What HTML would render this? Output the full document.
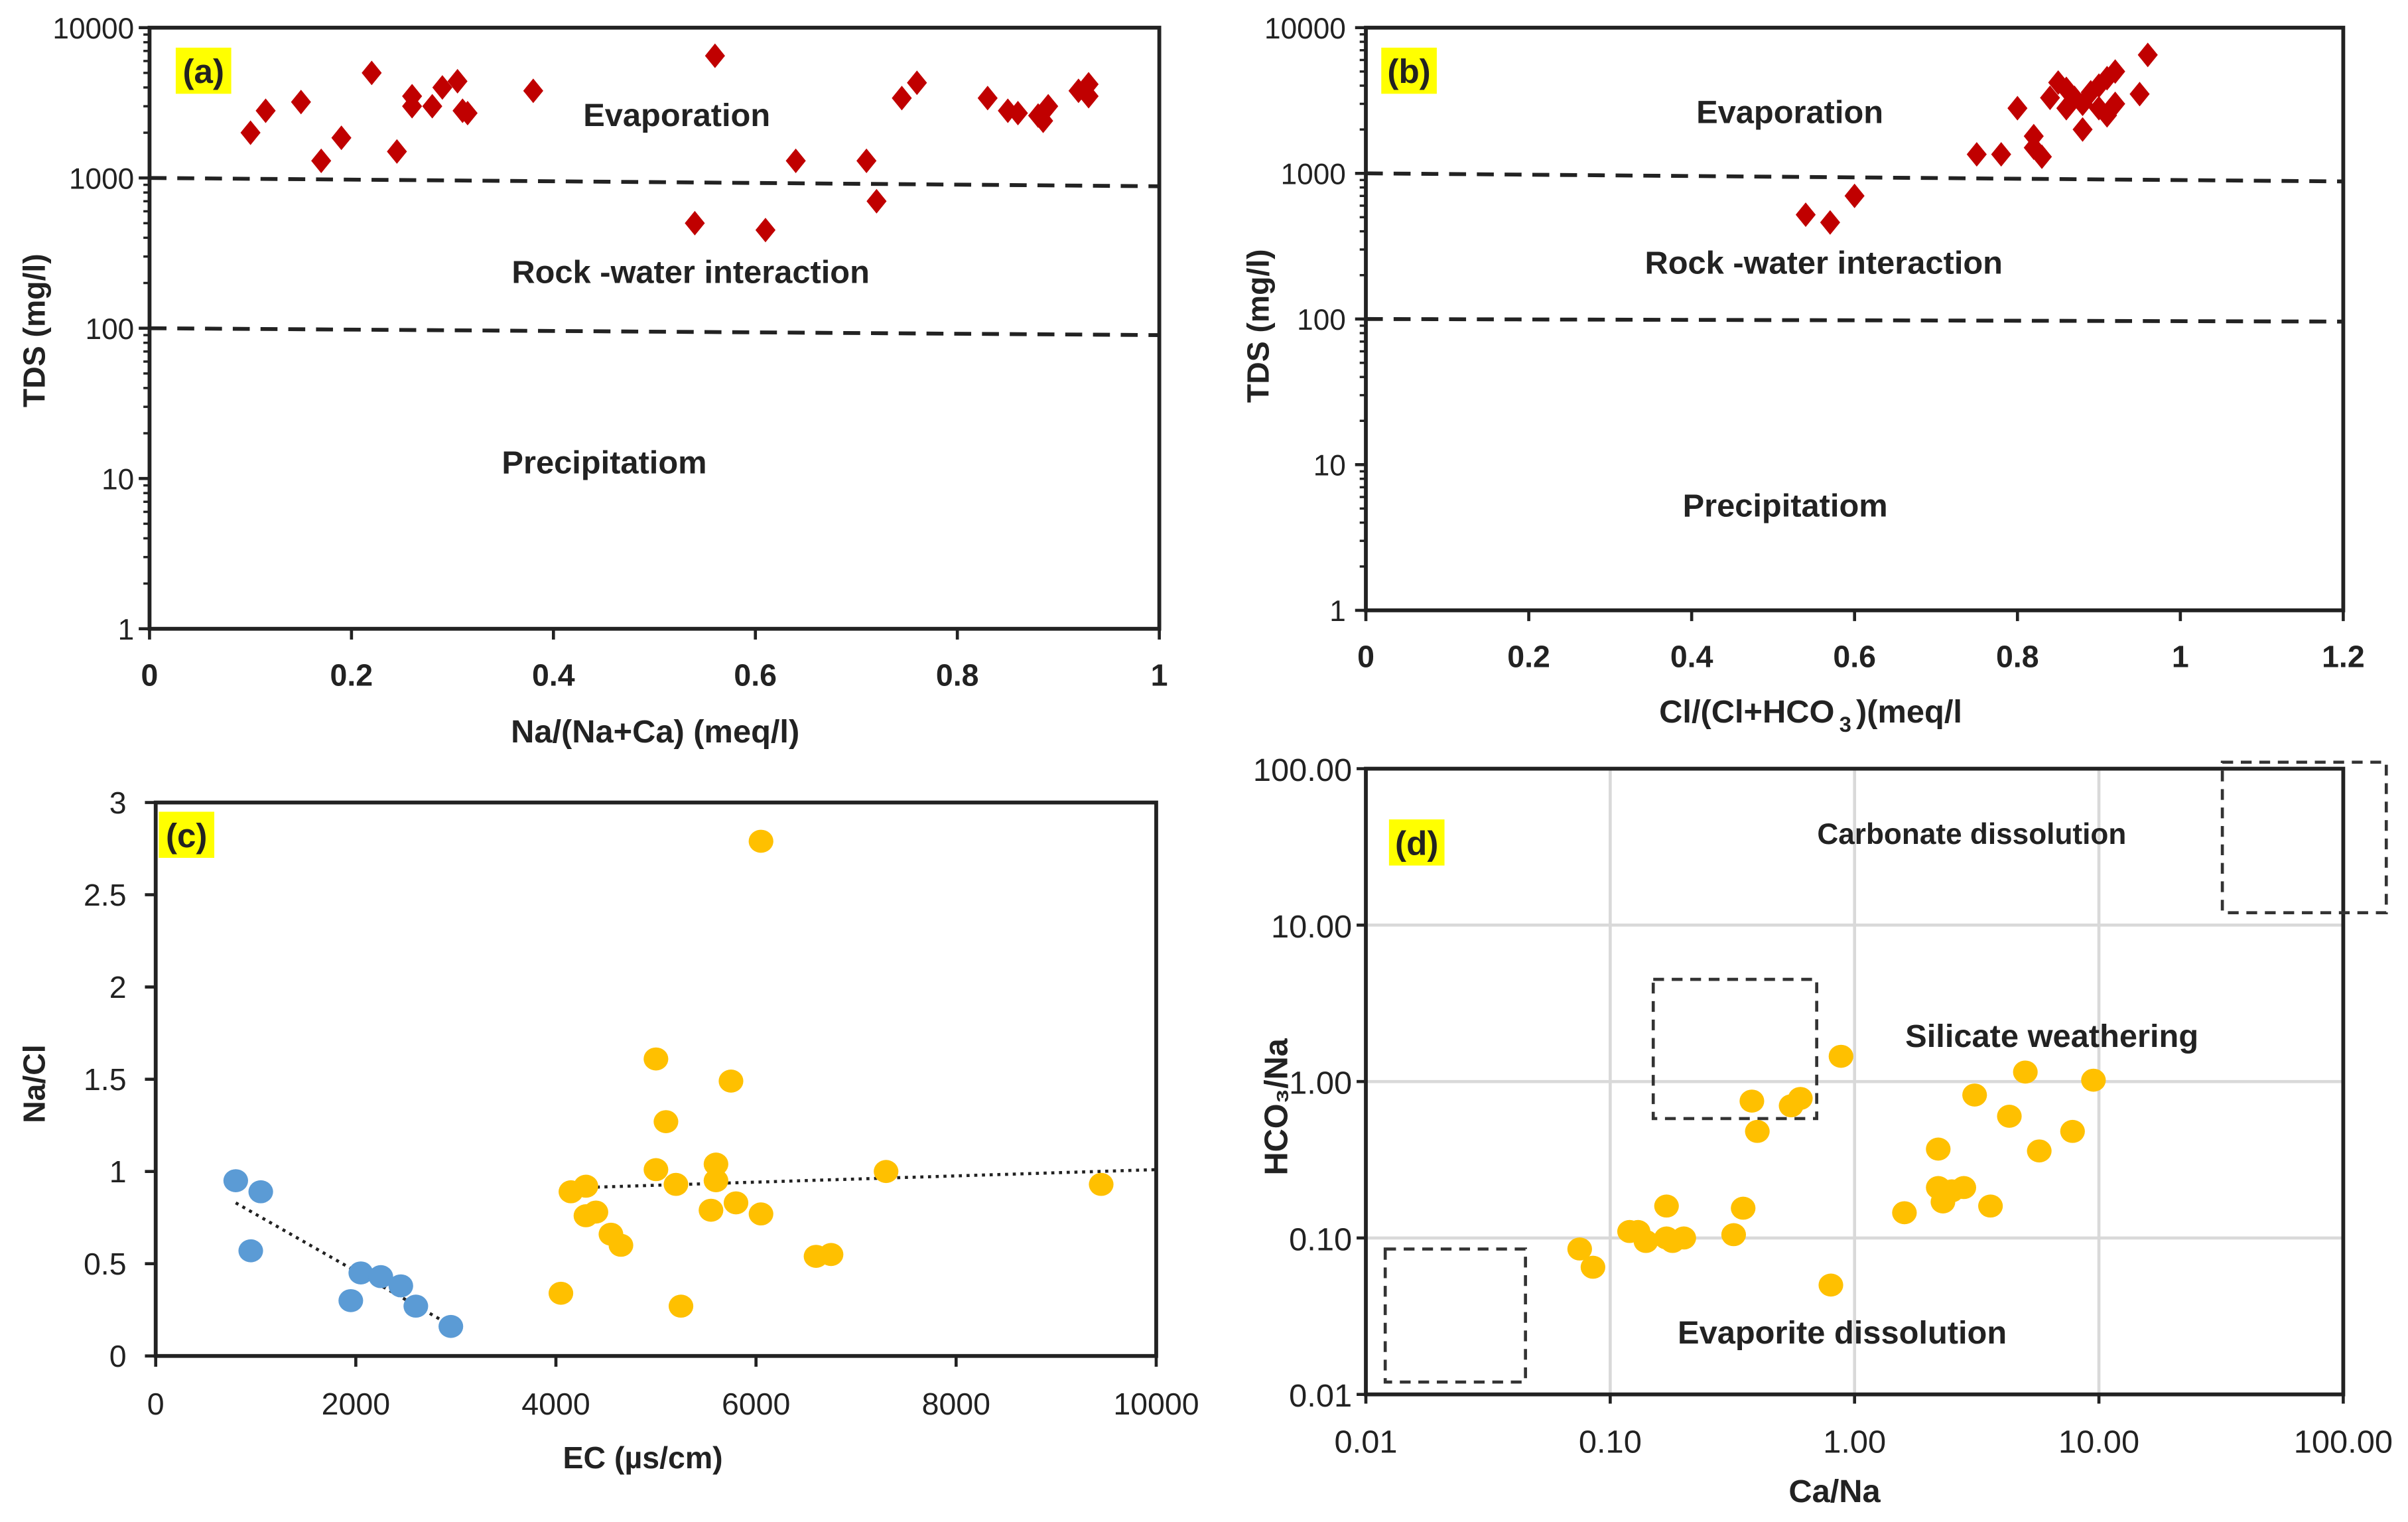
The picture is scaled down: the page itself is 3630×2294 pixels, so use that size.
<!DOCTYPE html>
<html><head><meta charset="utf-8"><style>
html,body{margin:0;padding:0;background:#fff;}
svg{display:block;font-family:"Liberation Sans",sans-serif;}
</style></head><body>
<svg id="fig" width="3630" height="2294" viewBox="0 0 1562 990" preserveAspectRatio="none" xmlns="http://www.w3.org/2000/svg"></svg>
<script>
// ---- data ----
const aX=[0.10,0.115,0.15,0.17,0.19,0.22,0.245,0.26,0.26,0.28,0.29,0.305,0.31,0.315,0.38,0.54,0.56,0.61,0.64,0.71,0.72,0.745,0.76,0.83,0.85,0.86,0.88,0.885,0.89,0.92,0.93,0.93];
const aY=[2000,2800,3200,1300,1850,5000,1500,3500,3000,3000,4000,4400,2800,2700,3800,500,6500,450,1300,1300,700,3400,4300,3400,2800,2700,2600,2400,3000,3800,4200,3500];
const bX=[0.54,0.57,0.60,0.75,0.78,0.80,0.82,0.82,0.83,0.84,0.85,0.86,0.86,0.87,0.88,0.88,0.89,0.90,0.90,0.91,0.91,0.92,0.92,0.95,0.96];
const bY=[520,460,700,1350,1350,2800,1800,1500,1300,3300,4200,3800,2800,3300,2000,3000,3600,4000,2800,4500,2500,3000,5000,3500,6500];
const cBlueX=[800,1050,950,1950,2050,2250,2450,2600,2950];
const cBlueY=[0.95,0.89,0.57,0.30,0.45,0.43,0.38,0.27,0.16];
const cOrX=[4050,4150,4300,4300,4400,4550,4650,5000,5000,5100,5200,5250,5550,5600,5750,5800,5600,6050,6050,6600,6750,7300,9450];
const cOrY=[0.34,0.89,0.92,0.76,0.78,0.66,0.60,1.61,1.01,1.27,0.93,0.27,0.79,1.04,1.49,0.83,0.95,0.77,2.79,0.54,0.55,1.00,0.93];
const dX=[0.075,0.085,0.12,0.13,0.14,0.17,0.17,0.18,0.2,0.32,0.35,0.38,0.4,0.55,0.6,0.8,0.88,1.6,2.2,2.2,2.3,2.5,2.8,3.1,3.6,4.3,5.0,5.7,7.8,9.5];
const dY=[0.085,0.065,0.11,0.11,0.095,0.16,0.10,0.095,0.10,0.105,0.155,0.75,0.48,0.7,0.78,0.05,1.45,0.145,0.37,0.21,0.17,0.2,0.21,0.82,0.16,0.6,1.15,0.36,0.48,1.02];
const logTicksA=["1","10","100","1000","10000"];
const linTicksA=["0","0.2","0.4","0.6","0.8","1"];
const linTicksB=["0","0.2","0.4","0.6","0.8","1","1.2"];
const cXTicks=["0","2000","4000","6000","8000","10000"];
const cYTicks=["0","0.5","1","1.5","2","2.5","3"];
const dTicks=["0.01","0.10","1.00","10.00","100.00"];

const NS="http://www.w3.org/2000/svg";
const svg=document.getElementById('fig');
function mk(tag,attrs,parent){const e=document.createElementNS(NS,tag);for(const k in attrs)e.setAttribute(k,attrs[k]);(parent||svg).appendChild(e);return e;}
function txt(s,x,y,size,anchor,parent,weight,extra){const t=mk('text',{x:x,y:y,'font-size':size,'text-anchor':anchor||'middle','font-weight':weight||'bold',fill:'#222'},parent);t.textContent=s;return t;}
function lin(v0,v1,p0,p1){return v=>p0+(v-v0)/(v1-v0)*(p1-p0);}
function lg(v0,v1,p0,p1){return v=>p0+(Math.log10(v)-Math.log10(v0))/(Math.log10(v1)-Math.log10(v0))*(p1-p0);}
function box(g,l,t,r,b){const e=mk('rect',{x:l,y:t,width:r-l,height:b-t,fill:'none',stroke:'#222','stroke-width':2.5},g);}
function diamond(g,x,y){const s=8;const e=mk('polygon',{points:`${x},${y-s} ${x+6.5},${y} ${x},${y+s} ${x-6.5},${y}`,fill:'#c00000'},g);}
function dot(g,x,y,c){const e=mk('ellipse',{cx:x,cy:y,rx:8,ry:7.5,fill:c},g);}
function tag(g,s,x,y){const r=mk('rect',{x:x,y:y,width:36,height:30,fill:'#ffff00'},g);const t=txt(s,x+18,y+23,22,'middle',g);}
function panel(name){const g=mk('g',{});return g;}

// ---- panel a ----
(function(){
const g=panel('panel-a');const L=97,R=752,T=18,B=409;
const X=lin(0,1,L,R),Y=lg(1,10000,B,T);
box(g,L,T,R,B);
logTicksA.forEach(s=>{const v=+s;const y=Y(v);mk('line',{x1:L-7,x2:L,y1:y,y2:y,stroke:'#222','stroke-width':2},g);const t=txt(s,L-10,y+7,19,'end',g,'normal');
 if(v<10000)for(let k=2;k<10;k++){const yy=Y(v*k);mk('line',{x1:L-4,x2:L,y1:yy,y2:yy,stroke:'#222','stroke-width':1.5},g);}});
linTicksA.forEach(s=>{const x=X(+s);mk('line',{x1:x,x2:x,y1:B,y2:B+7,stroke:'#222','stroke-width':2},g);const t=txt(s,x,B+37,20,'middle',g,'bold');});
let d1=mk('line',{x1:X(0),y1:Y(1000),x2:X(1),y2:Y(880),stroke:'#222','stroke-width':2.5,'stroke-dasharray':'11,7'},g);
let d2=mk('line',{x1:X(0),y1:Y(100),x2:X(1),y2:Y(90),stroke:'#222','stroke-width':2.5,'stroke-dasharray':'11,7'},g);
aX.forEach((v,i)=>diamond(g,X(v),Y(aY[i])));
tag(g,'(a)',114,31);
let t=txt('Evaporation',439,82,21,'middle',g,'bold');
t=txt('Rock -water interaction',448,184,21,'middle',g,'bold');
t=txt('Precipitatiom',392,308,21,'middle',g,'bold');
t=txt('Na/(Na+Ca) (meq/l)',425,483,21,'middle',g,'bold');
t=txt('TDS (mg/l)',0,0,20,'middle',g,'bold');t.setAttribute('transform','translate(29,215) rotate(-90)');
})();

// ---- panel b ----
(function(){
const g=panel('panel-b');const L=886,R=1520,T=18,B=397;
const X=lin(0,1.2,L,R),Y=lg(1,10000,B,T);
box(g,L,T,R,B);
logTicksA.forEach(s=>{const v=+s;const y=Y(v);mk('line',{x1:L-7,x2:L,y1:y,y2:y,stroke:'#222','stroke-width':2},g);const t=txt(s,L-13,y+7,19,'end',g,'normal');
 if(v<10000)for(let k=2;k<10;k++){const yy=Y(v*k);mk('line',{x1:L-4,x2:L,y1:yy,y2:yy,stroke:'#222','stroke-width':1.5},g);}});
linTicksB.forEach(s=>{const x=X(+s);mk('line',{x1:x,x2:x,y1:B,y2:B+7,stroke:'#222','stroke-width':2},g);const t=txt(s,x,B+37,20,'middle',g,'bold');});
let d1=mk('line',{x1:X(0),y1:Y(1000),x2:X(1.2),y2:Y(880),stroke:'#222','stroke-width':2.5,'stroke-dasharray':'11,7'},g);
let d2=mk('line',{x1:X(0),y1:Y(100),x2:X(1.2),y2:Y(96),stroke:'#222','stroke-width':2.5,'stroke-dasharray':'11,7'},g);
bX.forEach((v,i)=>diamond(g,X(v),Y(bY[i])));
tag(g,'(b)',896,31);
let t=txt('Evaporation',1161,80,21,'middle',g,'bold');
t=txt('Rock -water interaction',1183,178,21,'middle',g,'bold');
t=txt('Precipitatiom',1158,336,21,'middle',g,'bold');
t=txt('Cl/(Cl+HCO',1190,470,21,'end',g,'bold');
t=txt('3',1197,476,14,'middle',g,'bold');
t=txt(')(meq/l',1204,470,21,'start',g,'bold');
t=txt('TDS (mg/l)',0,0,20,'middle',g,'bold');t.setAttribute('transform','translate(823,212) rotate(-90)');
})();

// ---- panel c ----
(function(){
const g=panel('panel-c');const L=101,R=750,T=522,B=882;
const X=lin(0,10000,L,R),Y=lin(0,3,B,T);
box(g,L,T,R,B);
cYTicks.forEach(s=>{const y=Y(+s);mk('line',{x1:L-7,x2:L,y1:y,y2:y,stroke:'#222','stroke-width':2},g);const t=txt(s,L-19,y+7,20,'end',g,'normal');});
cXTicks.forEach(s=>{const x=X(+s);mk('line',{x1:x,x2:x,y1:B,y2:B+7,stroke:'#222','stroke-width':2},g);const t=txt(s,x,B+38,20,'middle',g,'normal');});
let tl=mk('line',{x1:X(800),y1:Y(0.83),x2:X(3000),y2:Y(0.15),stroke:'#222','stroke-width':2,'stroke-dasharray':'2,3'},g);
tl=mk('line',{x1:X(4100),y1:Y(0.91),x2:X(10000),y2:Y(1.01),stroke:'#222','stroke-width':2,'stroke-dasharray':'2,3'},g);
cBlueX.forEach((v,i)=>dot(g,X(v),Y(cBlueY[i]),'#5b9bd5'));
cOrX.forEach((v,i)=>dot(g,X(v),Y(cOrY[i]),'#ffc000'));
tag(g,'(c)',103,528);
let t=txt('EC (µs/cm)',417,955,20,'middle',g,'bold');
t=txt('Na/Cl',0,0,20,'middle',g,'bold');t.setAttribute('transform','translate(29,705) rotate(-90)');
})();

// ---- panel d ----
(function(){
const g=panel('panel-d');const L=886,R=1520,T=500,B=907;
const X=lg(0.01,100,L,R),Y=lg(0.01,100,B,T);
dTicks.forEach(s=>{const v=+s;const x=X(v),y=Y(v);
 const gl=mk('line',{x1:x,x2:x,y1:T,y2:B,stroke:'#d9d9d9','stroke-width':2},g);
 const gh=mk('line',{x1:L,x2:R,y1:y,y2:y,stroke:'#d9d9d9','stroke-width':2},g);});
box(g,L,T,R,B);
dTicks.forEach(s=>{const v=+s;const x=X(v),y=Y(v);
 mk('line',{x1:L-6,x2:L,y1:y,y2:y,stroke:'#222','stroke-width':2},g);mk('line',{x1:x,x2:x,y1:B,y2:B+6,stroke:'#222','stroke-width':2},g);
 let t=txt(s,L-9,y+8,21,'end',g,'normal');
 t=txt(s,x,B+38,21,'middle',g,'normal');});
function dbox(x0,x1,y0,y1,name){const e=mk('rect',{x:X(x0),y:Y(y1),width:X(x1)-X(x0),height:Y(y0)-Y(y1),fill:'none',stroke:'#333','stroke-width':2,'stroke-dasharray':'7,5'},g);}
dbox(0.012,0.045,0.012,0.085,'evaporite-box');
dbox(0.15,0.7,0.58,4.5,'silicate-box');
dbox(32,150,12,110,'carbonate-box');
dX.forEach((v,i)=>dot(g,X(v),Y(dY[i]),'#ffc000'));
tag(g,'(d)',901,533);
let t=txt('Carbonate dissolution',1279,549,19,'middle',g,'bold');
t=txt('Silicate weathering',1331,681,21,'middle',g,'bold');
t=txt('Evaporite dissolution',1195,874,21,'middle',g,'bold');
t=txt('Ca/Na',1190,977,21,'middle',g,'bold');
t=txt('HCO\u2083/Na',0,0,21,'middle',g,'bold');t.setAttribute('transform','translate(835,720) rotate(-90)');
})();
</script>
</body></html>
